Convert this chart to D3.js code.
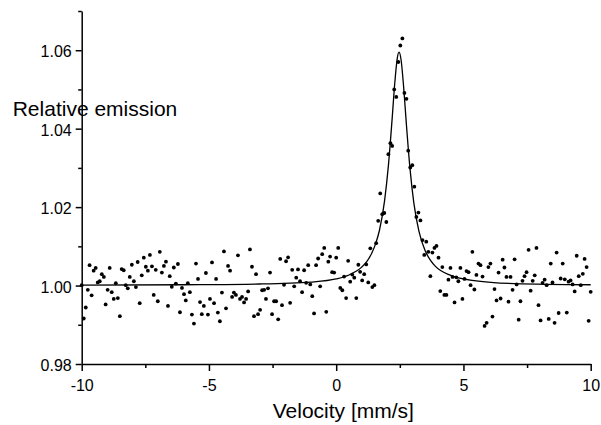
<!DOCTYPE html>
<html>
<head>
<meta charset="utf-8">
<script src="https://cdn.jsdelivr.net/npm/d3@7"></script>
<style>
    body { margin: 0; background: #fff; }
    #chart { display: block; }
</style>
</head>
<body>
<svg id="chart" width="601" height="425"></svg>
<script>

const velocity = [
    -10.00, -9.92, -9.84, -9.76, -9.69, -9.61, -9.53, -9.45, -9.37, -9.29,
    -9.21, -9.13, -9.06, -8.98, -8.90, -8.82, -8.74, -8.66, -8.58, -8.50,
    -8.43, -8.35, -8.27, -8.19, -8.11, -8.03, -7.95, -7.87, -7.80, -7.72,
    -7.64, -7.56, -7.48, -7.40, -7.32, -7.24, -7.17, -7.09, -7.01, -6.93,
    -6.85, -6.77, -6.69, -6.61, -6.54, -6.46, -6.38, -6.30, -6.22, -6.14,
    -6.06, -5.98, -5.91, -5.83, -5.75, -5.67, -5.59, -5.51, -5.43, -5.35,
    -5.28, -5.20, -5.12, -5.04, -4.96, -4.88, -4.80, -4.72, -4.65, -4.57,
    -4.49, -4.41, -4.33, -4.25, -4.17, -4.09, -4.02, -3.94, -3.86, -3.78,
    -3.70, -3.62, -3.54, -3.46, -3.39, -3.31, -3.23, -3.15, -3.07, -2.99,
    -2.91, -2.83, -2.76, -2.68, -2.60, -2.52, -2.44, -2.36, -2.28, -2.20,
    -2.13, -2.05, -1.97, -1.89, -1.81, -1.73, -1.65, -1.57, -1.50, -1.42,
    -1.34, -1.26, -1.18, -1.10, -1.02, -0.94, -0.87, -0.79, -0.71, -0.63,
    -0.55, -0.47, -0.39, -0.31, -0.24, -0.16, -0.08, 0.00, 0.08, 0.16,
    0.24, 0.31, 0.39, 0.47, 0.55, 0.63, 0.71, 0.79, 0.87, 0.94,
    1.02, 1.10, 1.18, 1.26, 1.34, 1.42, 1.50, 1.57, 1.65, 1.73,
    1.81, 1.89, 1.97, 2.05, 2.13, 2.20, 2.28, 2.36, 2.44, 2.52,
    2.60, 2.68, 2.76, 2.83, 2.91, 2.99, 3.07, 3.15, 3.23, 3.31,
    3.39, 3.46, 3.54, 3.62, 3.70, 3.78, 3.86, 3.94, 4.02, 4.09,
    4.17, 4.25, 4.33, 4.41, 4.49, 4.57, 4.65, 4.72, 4.80, 4.88,
    4.96, 5.04, 5.12, 5.20, 5.28, 5.35, 5.43, 5.51, 5.59, 5.67,
    5.75, 5.83, 5.91, 5.98, 6.06, 6.14, 6.22, 6.30, 6.38, 6.46,
    6.54, 6.61, 6.69, 6.77, 6.85, 6.93, 7.01, 7.09, 7.17, 7.24,
    7.32, 7.40, 7.48, 7.56, 7.64, 7.72, 7.80, 7.87, 7.95, 8.03,
    8.11, 8.19, 8.27, 8.35, 8.43, 8.50, 8.58, 8.66, 8.74, 8.82,
    8.90, 8.98, 9.06, 9.13, 9.21, 9.29, 9.37, 9.45, 9.53, 9.61,
    9.69, 9.76, 9.84, 9.92, 10.00
];

// relative emission per channel
const emission = [
    1.0001, 0.9916, 0.9944, 0.9989, 1.0052, 0.9975, 1.0038, 1.0045, 1.0008, 1.0011,
    1.0029, 1.0022, 0.9952, 0.9989, 1.0045, 0.9983, 0.9966, 1.0006, 0.9968, 0.9922,
    1.0042, 1.0039, 1.0001, 0.9993, 1.0022, 1.0053, 1.0011, 0.9996, 1.0060, 0.9955,
    1.0026, 1.0071, 1.0048, 1.0038, 1.0078, 1.0049, 0.9976, 1.0040, 0.9960, 1.0086,
    1.0033, 1.0050, 1.0061, 0.9948, 1.0024, 0.9997, 1.0046, 1.0005, 1.0055, 0.9932,
    0.9994, 0.9978, 0.9962, 1.0006, 0.9983, 0.9926, 0.9903, 1.0056, 1.0017, 0.9958,
    0.9927, 0.9948, 1.0032, 0.9926, 0.9966, 1.0059, 0.9955, 1.0017, 0.9931, 0.9909,
    0.9982, 1.0087, 0.9942, 1.0050, 1.0038, 0.9971, 0.9982, 0.9976, 1.0077, 0.9966,
    0.9971, 0.9957, 0.9966, 0.9985, 1.0092, 1.0048, 0.9922, 1.0029, 0.9927, 0.9938,
    0.9988, 0.9989, 0.9966, 0.9993, 1.0033, 0.9927, 0.9960, 0.9960, 0.9914, 1.0068,
    0.9950, 1.0002, 1.0062, 1.0072, 0.9956, 1.0040, 0.9998, 1.0020, 1.0041, 1.0011,
    0.9983, 1.0039, 1.0007, 1.0052, 1.0003, 0.9973, 0.9929, 1.0052, 1.0069, 0.9998,
    1.0080, 1.0096, 0.9933, 1.0061, 1.0074, 1.0034, 1.0033, 1.0071, 1.0096, 0.9994,
    0.9988, 1.0023, 0.9968, 1.0063, 1.0010, 1.0028, 1.0020, 0.9968, 1.0053, 1.0035,
    1.0013, 1.0029, 1.0054, 1.0008, 1.0095, 0.9996, 1.0001, 1.0108, 1.0165, 1.0235,
    1.0182, 1.0185, 1.0162, 1.0335, 1.0363, 1.0356, 1.0500, 1.0481, 1.0570, 1.0612,
    1.0630, 1.0491, 1.0476, 1.0344, 1.0301, 1.0307, 1.0252, 1.0175, 1.0186, 1.0166,
    1.0116, 1.0078, 1.0112, 1.0086, 1.0024, 1.0084, 1.0096, 1.0101, 1.0071, 0.9986,
    1.0047, 0.9976, 0.9976, 1.0015, 1.0045, 1.0022, 0.9957, 1.0021, 1.0011, 1.0045,
    0.9966, 1.0017, 1.0037, 1.0034, 1.0001, 1.0086, 0.9990, 1.0027, 1.0056, 1.0052,
    1.0023, 0.9897, 0.9905, 1.0047, 1.0056, 0.9921, 0.9991, 0.9962, 1.0033, 0.9967,
    1.0066, 1.0046, 1.0022, 0.9959, 1.0022, 0.9989, 1.0067, 1.0003, 0.9913, 0.9960,
    1.0012, 1.0024, 1.0034, 1.0091, 0.9987, 1.0012, 1.0026, 1.0096, 0.9950, 0.9911,
    1.0007, 1.0015, 1.0001, 0.9915, 1.0056, 1.0008, 0.9905, 1.0084, 0.9930, 1.0018,
    1.0056, 1.0016, 0.9931, 1.0010, 1.0013, 1.0003, 0.9985, 1.0076, 1.0024, 1.0001,
    1.0030, 1.0068, 1.0047, 0.9910, 0.9984
];

// fitted line, points
const fitVelocity = [-10, -6, -3, -1, 0, 0.5, 1, 1.2, 1.4, 1.55, 1.7, 1.9, 2.05, 2.2, 2.3, 2.4, 2.47,
    2.55, 2.65, 2.75, 2.9, 3.05, 3.25, 3.5, 3.7, 3.9, 4.5, 5.5, 7, 10];
const fitEmission = [1.0001, 1.0002, 1.0004, 1.0009, 1.0017, 1.0027, 1.0047, 1.0061, 1.0083, 1.0107, 1.0141,
    1.0216, 1.0305, 1.0427, 1.0515, 1.0580, 1.0595, 1.0575, 1.0506, 1.0418, 1.0298, 1.0211, 1.0139,
    1.0088, 1.0065, 1.0049, 1.0026, 1.0012, 1.0005, 1.0002];

const xMajorTicks = [-10, -5, 0, 5, 10];
const xMinorTicks = [-7.5, -2.5, 2.5, 7.5];
const yMajorTicks = [0.98, 1.00, 1.02, 1.04, 1.06];
const yMinorTicks = [0.99, 1.01, 1.03, 1.05, 1.07];

const xTitle = "Velocity [mm/s]";
const yTitle = "Relative emission";


class SpectrumVis {

    constructor(_parentElement) {
        this.parentElement = _parentElement;
        this.points = velocity.map((v, i) => ({x: v, y: emission[i]}));
        this.fit = fitVelocity.map((v, i) => ({x: v, y: fitEmission[i]}));

        this.initVis();
    }

    initVis() {
        let vis = this;

        vis.font = "'Liberation Sans', Arial, sans-serif";
        vis.svg = d3.select("#" + vis.parentElement);

        vis.svg.append("rect")
            .attr("width", 601)
            .attr("height", 425)
            .attr("fill", "#fff");

        vis.x = d3.scaleLinear()
            .domain([-10, 10])
            .range([81.7, 590.7]);

        vis.y = d3.scaleLinear()
            .domain([0.98, 1.07])
            .range([364, 11]);

        vis.updateVis();
    }

    updateVis() {
        let vis = this;

        // ---- axes ----
        let xAxis = d3.axisBottom(vis.x)
            .tickValues(xMajorTicks)
            .tickSizeInner(7)
            .tickSizeOuter(0)
            .tickPadding(8.5)
            .tickFormat(d => String(d));

        let xMinor = d3.axisBottom(vis.x)
            .tickValues(xMinorTicks)
            .tickSizeInner(4)
            .tickSizeOuter(0)
            .tickFormat("");

        let yAxis = d3.axisLeft(vis.y)
            .tickValues(yMajorTicks)
            .tickSizeInner(6)
            .tickSizeOuter(0)
            .tickPadding(4)
            .tickFormat(d3.format(".2f"));

        let yMinor = d3.axisLeft(vis.y)
            .tickValues(yMinorTicks)
            .tickSizeInner(3.5)
            .tickSizeOuter(0)
            .tickFormat("");

        let gx = vis.svg.append("g")
            .attr("transform", `translate(0, ${vis.y(0.98)})`)
            .call(xAxis);

        vis.svg.append("g")
            .attr("transform", `translate(0, ${vis.y(0.98)})`)
            .call(xMinor)
            .call(g => g.select(".domain").remove());

        let gy = vis.svg.append("g")
            .attr("transform", `translate(${vis.x(-10)}, 0)`)
            .call(yAxis);

        vis.svg.append("g")
            .attr("transform", `translate(${vis.x(-10)}, 0)`)
            .call(yMinor)
            .call(g => g.select(".domain").remove());

        vis.svg.selectAll(".domain, .tick line")
            .attr("stroke", "#000")
            .attr("stroke-width", 1.5);

        gx.selectAll("text")
            .attr("font-size", 16)
            .attr("font-family", vis.font)
            .attr("fill", "#000");

        gy.selectAll("text")
            .attr("font-size", 16)
            .attr("font-family", vis.font)
            .attr("fill", "#000")
            .attr("dy", "0.42em");

        // ---- fitted curve ----
        let line = d3.line()
            .x(d => vis.x(d.x))
            .y(d => vis.y(d.y))
            .curve(d3.curveMonotoneX);

        vis.svg.append("path")
            .datum(vis.fit)
            .attr("d", line)
            .attr("fill", "none")
            .attr("stroke", "#000")
            .attr("stroke-width", 1.3);

        // ---- data points ----
        vis.svg.selectAll(".dot")
            .data(vis.points)
            .enter()
            .append("circle")
            .attr("class", "dot")
            .attr("cx", d => vis.x(d.x))
            .attr("cy", d => vis.y(d.y))
            .attr("r", 1.9)
            .attr("fill", "#000");

        // ---- titles ----
        vis.svg.append("text")
            .attr("x", 12.7)
            .attr("y", 115.5)
            .attr("font-size", 21)
            .attr("font-family", vis.font)
            .text(yTitle);

        vis.svg.append("text")
            .attr("x", 343.3)
            .attr("y", 418.3)
            .attr("text-anchor", "middle")
            .attr("font-size", 21)
            .attr("font-family", vis.font)
            .text(xTitle);
    }
}

new SpectrumVis("chart");
</script>
</body>
</html>
